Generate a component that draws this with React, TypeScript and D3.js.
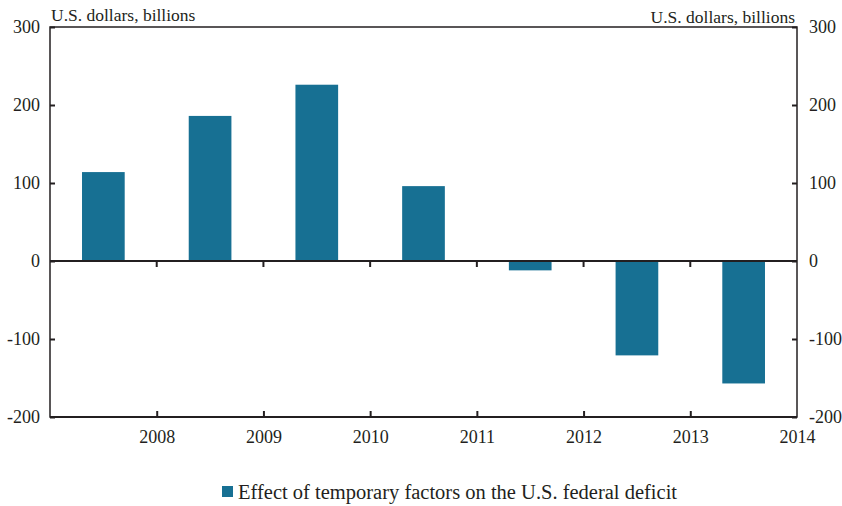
import React, { useEffect, useRef } from 'react';
import * as d3 from 'd3';

// Fiscal years (bars sit between year ticks)
const years = ['2007', '2008', '2009', '2010', '2011', '2012', '2013'];
const tempEffect = [114, 186, 226, 96, -12, -121, -157];
const yTicks = [-200, -100, 0, 100, 200, 300];
const xTickYears = [2008, 2009, 2010, 2011, 2012, 2013, 2014];

const App = () => {
  const chartRef = useRef<SVGSVGElement | null>(null);

  useEffect(() => {
    const svg = d3.select(chartRef.current);
    svg.selectAll('*').remove();

    const width = 842;
    const height = 506;
    const margin = { top: 27, right: 45, bottom: 89, left: 50 };
    const innerW = width - margin.left - margin.right;
    const innerH = height - margin.top - margin.bottom;
    const font = '"Liberation Serif", "DejaVu Serif", serif';
    const ink = '#231f20';
    const barColor = '#177093';
    const tickFont = '18px';

    const g = svg
      .append('g')
      .attr('transform', `translate(${margin.left},${margin.top})`);

    // Scales
    const xYear = d3.scaleLinear().domain([2007, 2014]).range([0, innerW]);
    const x = d3
      .scaleBand()
      .domain(years)
      .range([0, innerW])
      .paddingInner(0.6)
      .paddingOuter(0.3);
    const y = d3.scaleLinear().domain([-200, 300]).range([innerH, 0]);

    // Bars
    g.selectAll('.bar')
      .data(years.map((yr, i) => ({ yr, v: tempEffect[i] })))
      .enter()
      .append('rect')
      .attr('x', (d) => x(d.yr) as number)
      .attr('y', (d) => y(Math.max(0, d.v)))
      .attr('width', x.bandwidth())
      .attr('height', (d) => Math.abs(y(d.v) - y(0)))
      .attr('fill', barColor);

    // Zero line with downward year ticks
    g.append('line')
      .attr('x1', 0)
      .attr('x2', innerW)
      .attr('y1', y(0))
      .attr('y2', y(0))
      .attr('stroke', ink)
      .attr('stroke-width', 2);
    g.selectAll('.zt')
      .data(xTickYears.slice(0, -1))
      .enter()
      .append('line')
      .attr('x1', (d) => xYear(d))
      .attr('x2', (d) => xYear(d))
      .attr('y1', y(0))
      .attr('y2', y(0) + 6)
      .attr('stroke', ink)
      .attr('stroke-width', 2);

    // Frame
    g.append('rect')
      .attr('x', 0)
      .attr('y', 0)
      .attr('width', innerW)
      .attr('height', innerH)
      .attr('fill', 'none')
      .attr('stroke', ink)
      .attr('stroke-width', 1.5);
    g.append('line')
      .attr('x1', 0)
      .attr('x2', innerW)
      .attr('y1', innerH)
      .attr('y2', innerH)
      .attr('stroke', ink)
      .attr('stroke-width', 2);

    const fmt = (d: any) => String(d);

    // Left axis
    const left = d3
      .axisLeft(y)
      .tickValues(yTicks)
      .tickFormat(fmt)
      .tickSizeInner(-5)
      .tickSizeOuter(0)
      .tickPadding(10);
    const la = g.append('g').call(left);
    la.select('.domain').remove();
    la.selectAll('line').attr('stroke', ink).attr('stroke-width', 2);
    la.selectAll('text')
      .style('font-family', font)
      .style('font-size', tickFont)
      .attr('fill', ink);

    // Right axis
    const right = d3
      .axisRight(y)
      .tickValues(yTicks)
      .tickFormat(fmt)
      .tickSizeInner(-5)
      .tickSizeOuter(0)
      .tickPadding(12);
    const ra = g.append('g').attr('transform', `translate(${innerW},0)`).call(right);
    ra.select('.domain').remove();
    ra.selectAll('line').attr('stroke', ink).attr('stroke-width', 2);
    ra.selectAll('text')
      .style('font-family', font)
      .style('font-size', tickFont)
      .attr('fill', ink);

    // Bottom axis
    const bottom = d3
      .axisBottom(xYear)
      .tickValues(xTickYears)
      .tickFormat(d3.format('d'))
      .tickSizeInner(-6)
      .tickSizeOuter(0)
      .tickPadding(13);
    const ba = g.append('g').attr('transform', `translate(0,${innerH})`).call(bottom);
    ba.select('.domain').remove();
    ba.selectAll('line').attr('stroke', ink).attr('stroke-width', 2);
    ba.selectAll('.tick')
      .filter((d) => d === 2014)
      .select('line')
      .remove();
    ba.selectAll('text')
      .style('font-family', font)
      .style('font-size', tickFont)
      .attr('fill', ink);

    // Unit labels
    svg
      .append('text')
      .attr('x', margin.left + 1)
      .attr('y', 21)
      .style('font-family', font)
      .style('font-size', '17.5px')
      .attr('fill', ink)
      .text('U.S. dollars, billions');
    svg
      .append('text')
      .attr('x', margin.left + innerW - 2)
      .attr('y', 23)
      .attr('text-anchor', 'end')
      .style('font-family', font)
      .style('font-size', '17.5px')
      .attr('fill', ink)
      .text('U.S. dollars, billions');

    // Legend
    svg
      .append('rect')
      .attr('x', 222)
      .attr('y', 486)
      .attr('width', 11)
      .attr('height', 11)
      .attr('fill', barColor);
    svg
      .append('text')
      .attr('x', 238)
      .attr('y', 499)
      .style('font-family', font)
      .style('font-size', '20.5px')
      .attr('fill', ink)
      .text('Effect of temporary factors on the U.S. federal deficit');
  }, []);

  return (
    <svg
      ref={chartRef}
      width={842}
      height={506}
      style={{ position: 'absolute', left: 0, top: 0, background: '#fff' }}
    />
  );
};

export default App;
